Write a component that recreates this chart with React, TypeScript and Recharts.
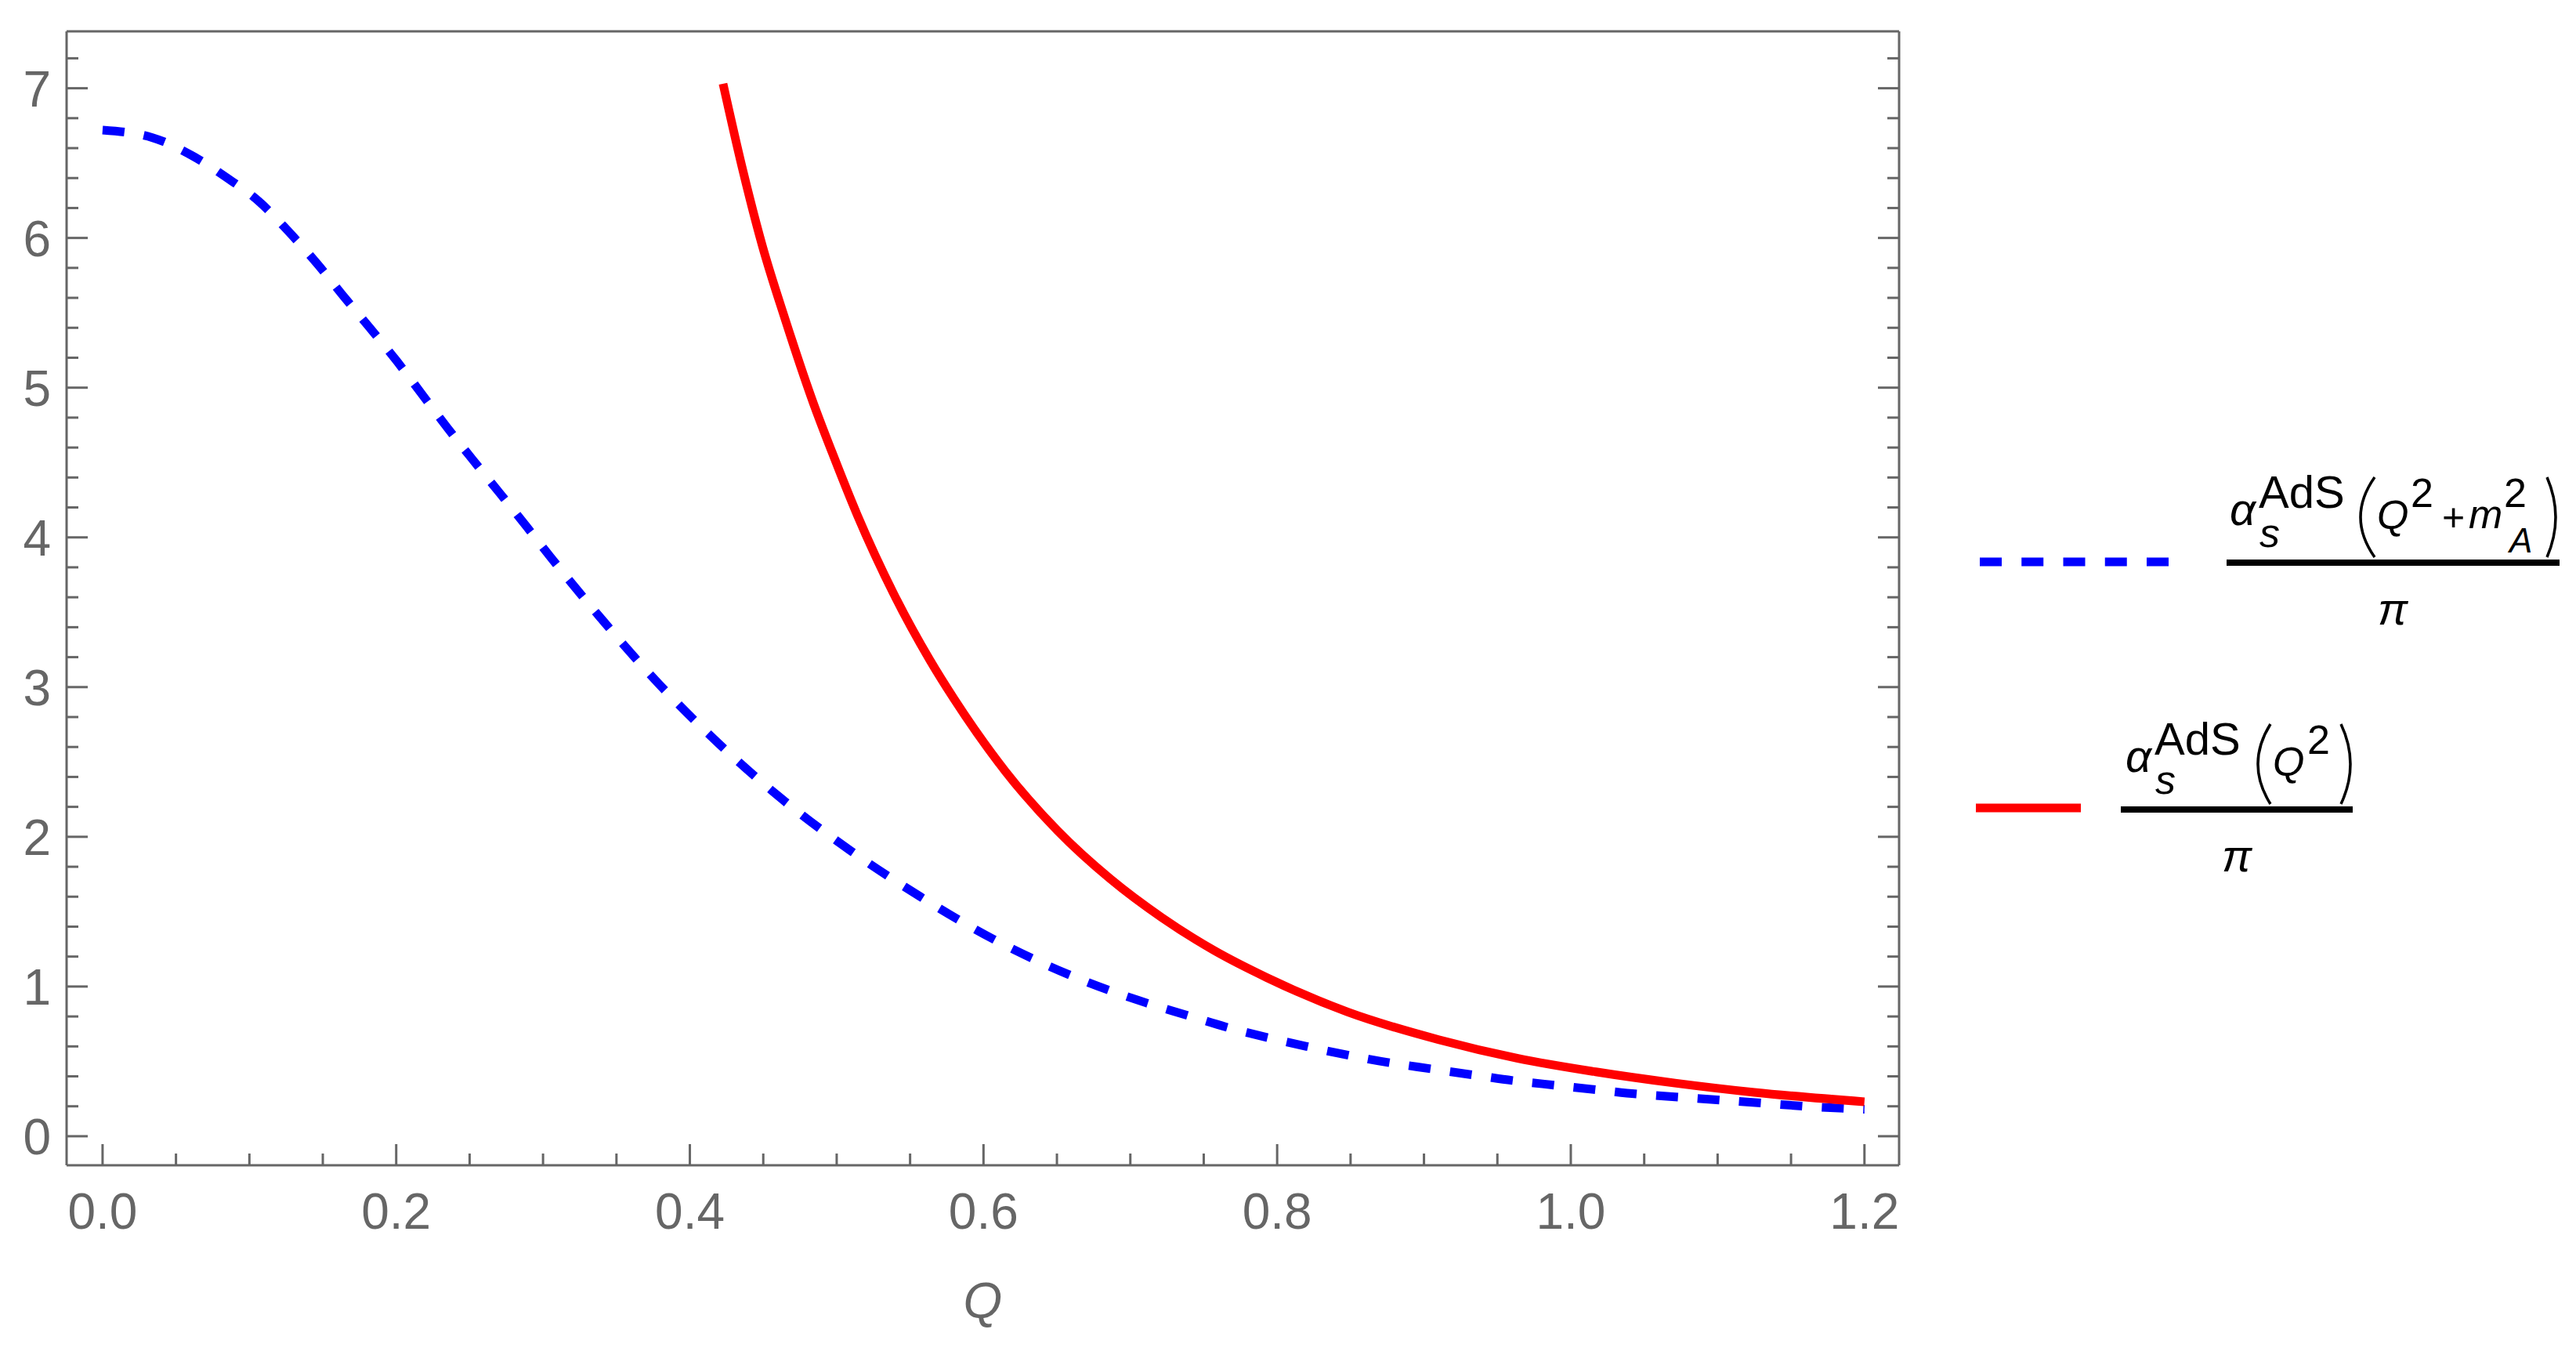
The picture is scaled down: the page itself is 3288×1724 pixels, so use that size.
import { Line, LineChart, XAxis, YAxis } from "recharts";

const C = {
  frame: "#666666",
  blue: "#0000ff",
  red: "#ff0000",
  ink: "#000000",
};
const FONT = "'Liberation Sans', Arial, sans-serif";

// Q values and alpha/pi
const blueQ = [
  0.0, 0.034, 0.061, 0.085, 0.107, 0.126, 0.146, 0.165, 0.182, 0.201, 0.218, 0.235, 0.252, 0.271,
  0.289, 0.305, 0.342, 0.379, 0.42, 0.463, 0.509, 0.557, 0.606, 0.658, 0.711, 0.738, 0.765, 0.793,
  0.82, 0.849, 0.877, 0.905, 0.933, 0.962, 0.99, 1.018, 1.047, 1.075, 1.103, 1.132, 1.16, 1.2,
];
const blueV = [
  6.72, 6.67, 6.55, 6.4, 6.24, 6.05, 5.83, 5.6, 5.4, 5.17, 4.95, 4.73, 4.52, 4.29, 4.07, 3.87,
  3.43, 3.02, 2.62, 2.25, 1.91, 1.6, 1.32, 1.08, 0.89, 0.81, 0.73, 0.66, 0.6, 0.54, 0.49, 0.45,
  0.41, 0.37, 0.34, 0.31, 0.28, 0.26, 0.24, 0.22, 0.2, 0.18,
];
const redQ = [
  0.4226, 0.4354, 0.4493, 0.4648, 0.484, 0.4968, 0.514, 0.539, 0.5635, 0.58, 0.6147, 0.6505,
  0.6862, 0.7215, 0.7572, 0.7929, 0.848, 0.91, 0.964, 1.017, 1.071, 1.125, 1.2,
];
const redV = [
  7.03, 6.48, 5.95, 5.46, 4.9, 4.57, 4.15, 3.62, 3.18, 2.92, 2.44, 2.04, 1.72, 1.46, 1.24, 1.06,
  0.83, 0.645, 0.52, 0.43, 0.355, 0.293, 0.23,
];

const qTicks = [
  0, 0.05, 0.1, 0.15, 0.2, 0.25, 0.3, 0.35, 0.4, 0.45, 0.5, 0.55, 0.6, 0.65, 0.7, 0.75, 0.8, 0.85,
  0.9, 0.95, 1.0, 1.05, 1.1, 1.15, 1.2,
];
const vTicks = [
  0, 0.2, 0.4, 0.6, 0.8, 1, 1.2, 1.4, 1.6, 1.8, 2, 2.2, 2.4, 2.6, 2.8, 3, 3.2, 3.4, 3.6, 3.8, 4,
  4.2, 4.4, 4.6, 4.8, 5, 5.2, 5.4, 5.6, 5.8, 6, 6.2, 6.4, 6.6, 6.8, 7, 7.2,
];

const blueData = blueQ.map((q, i) => ({ q, v: blueV[i] }));
const redData = redQ.map((q, i) => ({ q, v: redV[i] }));

const qDomain: [number, number] = [-0.0245, 1.2236];
const vDomain: [number, number] = [-0.194, 7.38];

const isMajorQ = (v: number) => Math.round(v * 100) % 20 === 0;
const isMajorV = (v: number) => Math.abs(v - Math.round(v)) < 1e-6;

const BIG = 27;
const SMALL = 15;

function BottomTick({ x, y, payload }: any) {
  const major = isMajorQ(payload.value);
  return (
    <g>
      <line x1={x} y1={y} x2={x} y2={y - (major ? BIG : SMALL)} stroke={C.frame} strokeWidth={3} />
      {major && (
        <text x={x} y={y + 81} textAnchor="middle" fill={C.frame} fontSize={64} fontFamily={FONT}>
          {payload.value.toFixed(1)}
        </text>
      )}
    </g>
  );
}

function TopTick({ x, y, payload }: any) {
  const major = isMajorQ(payload.value);
  return <line x1={x} y1={y} x2={x} y2={y + (major ? BIG : SMALL)} stroke={C.frame} strokeWidth={3} />;
}

function LeftTick({ x, y, payload }: any) {
  const major = isMajorV(payload.value);
  return (
    <g>
      <line x1={x} y1={y} x2={x + (major ? BIG : SMALL)} y2={y} stroke={C.frame} strokeWidth={3} />
      {major && (
        <text x={x - 20} y={y + 23} textAnchor="end" fill={C.frame} fontSize={64} fontFamily={FONT}>
          {Math.round(payload.value)}
        </text>
      )}
    </g>
  );
}

function RightTick({ x, y, payload }: any) {
  const major = isMajorV(payload.value);
  return <line x1={x} y1={y} x2={x - (major ? BIG : SMALL)} y2={y} stroke={C.frame} strokeWidth={3} />;
}

// tall parenthesis drawn as a curve: a = end x, l = furthest x
function Paren({ a, l, y1, y2 }: { a: number; l: number; y1: number; y2: number }) {
  const c = 2 * l - a;
  return (
    <path
      d={`M${a},${y1} Q${c},${(y1 + y2) / 2} ${a},${y2}`}
      fill="none"
      stroke={C.ink}
      strokeWidth={3.5}
    />
  );
}

function MathLegend() {
  const t = { fontFamily: FONT, fill: C.ink };
  const it = { ...t, fontStyle: "italic" as const };
  return (
    <svg
      width={3288}
      height={1724}
      style={{ position: "absolute", left: 0, top: 0, pointerEvents: "none" }}
    >
      {/* blue entry */}
      <line x1={2527} x2={2768} y1={717} y2={717} stroke={C.blue} strokeWidth={11} strokeDasharray="28 25.25" />
      <text x={2846} y={670} fontSize={58} {...it}>α</text>
      <text x={2883} y={648} fontSize={58} {...t}>AdS</text>
      <text x={2884} y={698} fontSize={52} {...it}>s</text>
      <Paren a={3031} l={3013} y1={609} y2={711} />
      <text x={3034} y={675} fontSize={52} {...it}>Q</text>
      <text x={3077} y={647} fontSize={52} {...t}>2</text>
      <text x={3117} y={677} fontSize={50} {...t}>+</text>
      <text x={3151} y={674} fontSize={52} {...it}>m</text>
      <text x={3196} y={647} fontSize={52} {...t}>2</text>
      <text x={3203} y={705} fontSize={44} {...it}>A</text>
      <Paren a={3251} l={3262} y1={609} y2={711} />
      <rect x={2842} y={714} width={425} height={8} fill={C.ink} />
      <text x={3054} y={797} fontSize={57} textAnchor="middle" {...it}>π</text>

      {/* red entry */}
      <line x1={2522} x2={2656} y1={1031} y2={1031} stroke={C.red} strokeWidth={11} />
      <text x={2713} y={985} fontSize={58} {...it}>α</text>
      <text x={2750} y={963} fontSize={58} {...t}>AdS</text>
      <text x={2751} y={1013} fontSize={52} {...it}>s</text>
      <Paren a={2898} l={2882} y1={924} y2={1026} />
      <text x={2901} y={990} fontSize={52} {...it}>Q</text>
      <text x={2945} y={962} fontSize={52} {...t}>2</text>
      <Paren a={2988} l={3000} y1={924} y2={1026} />
      <rect x={2707} y={1029} width={296} height={8} fill={C.ink} />
      <text x={2855} y={1112} fontSize={57} textAnchor="middle" {...it}>π</text>
    </svg>
  );
}

const axisLine = { stroke: C.frame, strokeWidth: 3 };

export default function App() {
  return (
    <div style={{ position: "absolute", left: 0, top: 0, width: 3288, height: 1724, background: "#fff" }}>
      {/* axes are 1px thick boxes so margins below are the frame edges minus 1 */}
      <LineChart width={3288} height={1724} margin={{ top: 39, right: 863, bottom: 236, left: 84 }}>
        <XAxis
          xAxisId="b"
          type="number"
          dataKey="q"
          domain={qDomain}
          allowDataOverflow
          ticks={qTicks}
          interval={0}
          height={1}
          tickSize={0}
          tickMargin={0}
          tickLine={false}
          axisLine={axisLine}
          tick={<BottomTick />}
          label={{
            value: "Q",
            position: "bottom",
            offset: 149,
            fill: C.frame,
            fontSize: 64,
            fontStyle: "italic",
            fontFamily: FONT,
          }}
        />
        <XAxis
          xAxisId="t"
          orientation="top"
          type="number"
          domain={qDomain}
          allowDataOverflow
          ticks={qTicks}
          interval={0}
          height={1}
          tickSize={0}
          tickMargin={0}
          tickLine={false}
          axisLine={axisLine}
          tick={<TopTick />}
        />
        <YAxis
          yAxisId="l"
          type="number"
          domain={vDomain}
          allowDataOverflow
          ticks={vTicks}
          interval={0}
          width={1}
          tickSize={0}
          tickMargin={0}
          tickLine={false}
          axisLine={axisLine}
          tick={<LeftTick />}
        />
        <YAxis
          yAxisId="r"
          orientation="right"
          type="number"
          domain={vDomain}
          allowDataOverflow
          ticks={vTicks}
          interval={0}
          width={1}
          tickSize={0}
          tickMargin={0}
          tickLine={false}
          axisLine={axisLine}
          tick={<RightTick />}
        />
        <Line
          xAxisId="b"
          yAxisId="l"
          data={blueData}
          dataKey="v"
          type="monotone"
          stroke={C.blue}
          strokeWidth={11}
          strokeDasharray="28 25"
          strokeLinecap="butt"
          dot={false}
          activeDot={false}
          isAnimationActive={false}
        />
        <Line
          xAxisId="b"
          yAxisId="l"
          data={redData}
          dataKey="v"
          type="monotone"
          stroke={C.red}
          strokeWidth={11}
          strokeLinecap="butt"
          dot={false}
          activeDot={false}
          isAnimationActive={false}
        />
      </LineChart>
      <MathLegend />
    </div>
  );
}
